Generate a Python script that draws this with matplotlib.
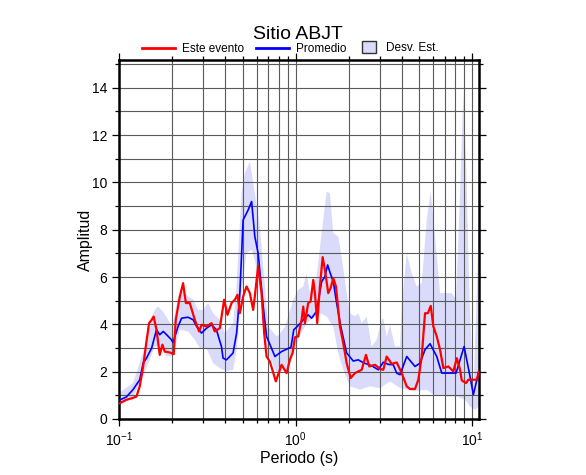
import matplotlib
matplotlib.use("Agg")
import matplotlib.pyplot as plt
from matplotlib.lines import Line2D
from matplotlib.patches import Patch
from matplotlib.ticker import LogLocator, MultipleLocator
import numpy as np

plt.rcParams['font.family'] = ['Liberation Sans', 'DejaVu Sans']
plt.rcParams['mathtext.fontset'] = 'custom'
plt.rcParams['mathtext.rm'] = 'Liberation Sans'
plt.rcParams['mathtext.it'] = 'Liberation Sans:italic'

# Este evento (rojo)
per_evento = [0.1, 0.110, 0.120, 0.1255, 0.131, 0.137, 0.143, 0.148, 0.153, 0.157,
              0.163, 0.170, 0.176, 0.1815, 0.194, 0.204, 0.2095, 0.221, 0.2305, 0.239,
              0.2515, 0.2685, 0.284, 0.293, 0.313, 0.334, 0.348, 0.372, 0.3935, 0.411,
              0.4335, 0.4524, 0.4686, 0.483, 0.504, 0.527, 0.550, 0.5745, 0.587, 0.613,
              0.641, 0.663, 0.684, 0.714, 0.772, 0.832, 0.888, 0.927, 0.960, 0.990,
              1.033, 1.08, 1.103, 1.128, 1.177, 1.214, 1.257, 1.285, 1.324, 1.371,
              1.421, 1.464, 1.528, 1.576, 1.632, 1.69, 1.78, 1.858, 1.943, 2.047,
              2.165, 2.363, 2.499, 2.609, 2.811, 3.0, 3.131, 3.273, 3.494, 3.729,
              3.981, 4.249, 4.436, 4.735, 4.944, 5.168, 5.395, 5.6, 5.812, 6.012,
              6.285, 6.561, 6.851, 7.311, 7.806, 8.159, 8.517, 8.708, 9.211, 9.491,
              10.13, 10.59, 10.87]
amp_evento = [0.65, 0.81, 0.89, 0.95, 1.38, 2.22, 3.28, 4.05, 4.19, 4.33,
              3.77, 2.71, 3.14, 2.85, 2.81, 2.74, 4.19, 5.18, 5.74, 4.90,
              4.90, 4.19, 3.70, 3.98, 3.91, 4.05, 3.70, 3.84, 5.04, 4.40,
              4.90, 5.04, 5.25, 4.47, 5.18, 5.60, 5.32, 4.61, 5.18, 6.47,
              5.32, 3.63, 2.64, 2.43, 1.59, 2.29, 1.94, 2.50, 2.79, 3.45,
              3.49, 4.19, 4.75, 4.05, 4.90, 4.96, 5.88, 5.32, 4.05, 5.60,
              6.84, 6.30, 5.32, 5.53, 5.95, 5.60, 3.91, 3.21, 2.36, 1.73,
              1.94, 2.08, 2.71, 2.22, 2.29, 2.12, 2.08, 2.64, 2.33, 2.39,
              1.94, 1.38, 1.27, 1.27, 1.66, 2.64, 4.47, 4.47, 4.78, 3.91,
              3.49, 2.93, 2.15, 2.22, 2.01, 2.57, 2.08, 1.63, 1.52, 1.66,
              1.66, 1.66, 2.0]

# Promedio (azul)
per_prom = [0.1, 0.110, 0.120, 0.131, 0.137, 0.143, 0.153, 0.163, 0.170, 0.178,
            0.186, 0.198, 0.202, 0.216, 0.226, 0.246, 0.263, 0.275, 0.293, 0.313,
            0.334, 0.356, 0.380, 0.388, 0.406, 0.442, 0.463, 0.483, 0.504, 0.538,
            0.563, 0.587, 0.613, 0.655, 0.684, 0.763, 0.832, 0.888, 0.940, 0.975,
            1.033, 1.103, 1.177, 1.230, 1.313, 1.402, 1.464, 1.516, 1.562, 1.632,
            1.705, 1.80, 1.943, 2.117, 2.260, 2.413, 2.692, 2.934, 3.131, 3.342,
            3.567, 3.729, 3.893, 4.249, 4.735, 5.055, 5.395, 5.759, 6.285, 6.709,
            8.084, 8.974, 9.617, 10.13, 10.87]
amp_prom = [0.79, 0.93, 1.24, 1.66, 2.36, 2.57, 3.00, 3.77, 3.56, 3.70,
            3.56, 3.35, 3.23, 3.91, 4.26, 4.30, 4.19, 3.91, 3.63, 3.84,
            3.98, 3.77, 3.06, 2.57, 2.50, 2.79, 3.63, 5.32, 8.41, 8.83,
            9.19, 7.71, 7.00, 4.75, 3.49, 2.64, 2.85, 2.95, 3.03, 3.77,
            3.95, 4.19, 4.40, 4.26, 4.55, 5.80, 6.02, 6.51, 6.20, 5.80,
            4.90, 3.90, 2.79, 2.45, 2.50, 2.38, 2.25, 2.08, 2.40, 2.31,
            2.29, 1.94, 1.87, 2.64, 2.22, 2.36, 2.93, 3.18, 2.64, 1.94,
            1.94, 3.06, 1.94, 1.03, 2.0]

# Desv. Est. (banda)
per_sup = [0.1, 0.120, 0.1368, 0.149, 0.1594, 0.1663, 0.1775, 0.1895, 0.2007, 0.2159,
           0.2287, 0.246, 0.2626, 0.2803, 0.2992, 0.3192, 0.3407, 0.372, 0.397, 0.4424,
           0.4626, 0.4938, 0.5155, 0.5503, 0.5873, 0.6271, 0.6693, 0.6988, 0.78, 0.814,
           0.87, 0.93, 0.968, 1.033, 1.103, 1.153, 1.204, 1.313, 1.402, 1.497,
           1.562, 1.632, 1.741, 1.82, 1.943, 2.028, 2.165, 2.26, 2.363, 2.522,
           2.692, 2.874, 3.067, 3.131, 3.273, 3.417, 3.647, 3.893, 3.981, 4.249,
           4.536, 4.842, 5.168, 5.516, 5.812, 6.147, 6.561, 7.161, 7.644, 8.084,
           8.517, 8.892, 9.211, 9.617, 10.13, 10.59, 10.87]
amp_sup = [1.10, 1.52, 2.79, 3.91, 4.61, 4.75, 4.54, 4.19, 3.91, 5.18,
           5.39, 5.18, 5.04, 4.61, 4.61, 4.90, 4.47, 4.19, 3.63, 4.05,
           5.60, 9.54, 10.38, 10.87, 9.54, 8.13, 5.60, 3.91, 3.49, 3.60,
           3.90, 4.60, 5.04, 5.46, 5.60, 6.16, 5.32, 6.02, 7.85, 9.61,
           9.54, 7.85, 7.71, 6.86, 5.32, 4.47, 4.33, 4.47, 4.05, 4.33,
           3.06, 3.35, 4.19, 4.26, 3.49, 3.98, 3.06, 3.06, 4.75, 7.00,
           6.16, 5.60, 5.74, 8.41, 9.61, 7.71, 5.32, 5.32, 5.32, 5.04,
           9.54, 13.83, 10.95, 5.32, 1.10, 5.32, 8.55]
per_inf = [0.1, 0.120, 0.1368, 0.149, 0.1594, 0.170, 0.1856, 0.1981, 0.2068, 0.2208,
           0.246, 0.2685, 0.2866, 0.3126, 0.3407, 0.372, 0.4059, 0.4424, 0.4662, 0.4938,
           0.5271, 0.5626, 0.5873, 0.6271, 0.6693, 0.7144, 0.78, 0.87, 0.93, 0.99,
           1.056, 1.153, 1.257, 1.371, 1.497, 1.632, 1.741, 1.858, 2.028, 2.311,
           2.633, 3.0, 3.417, 3.893, 4.631, 5.516, 6.012, 7.161, 8.159, 9.093,
           9.705, 10.36, 10.87]
amp_inf = [0.68, 0.89, 1.80, 2.50, 3.06, 3.06, 2.64, 2.64, 3.00, 3.77,
           3.70, 3.35, 3.00, 3.00, 2.36, 2.15, 2.01, 2.08, 3.06, 5.32,
           7.00, 7.15, 6.72, 5.46, 3.35, 2.64, 1.94, 2.10, 2.40, 2.90,
           3.50, 4.05, 4.26, 4.47, 4.33, 3.91, 2.79, 2.08, 1.38, 1.24,
           1.38, 1.30, 1.59, 1.31, 1.17, 1.24, 1.03, 0.95, 0.95, 0.81,
           0.53, 0.39, 0.53]

etiquetas = ['Este evento', 'Promedio', 'Desv. Est.']

fig = plt.figure(figsize=(5.86, 4.75), dpi=100)
ax = fig.add_axes([0.2031, 0.1179, 0.6143, 0.7558])

banda_x = np.concatenate([per_sup, per_inf[::-1]])
banda_y = np.concatenate([amp_sup, amp_inf[::-1]])
ax.fill(banda_x, banda_y, color='#dadafa', lw=0, zorder=1)
ax.plot(per_prom, amp_prom, color='#0000ff', lw=1.2, zorder=3)
ax.plot(per_evento, amp_evento, color='#ff0000', lw=1.6, zorder=4)

ax.set_xscale('log')
ax.set_xlim(0.1, 10.9)
ax.set_ylim(0, 15.17)
ax.yaxis.set_major_locator(MultipleLocator(2))
ax.yaxis.set_minor_locator(MultipleLocator(1))
ax.xaxis.set_minor_locator(LogLocator(base=10, subs=np.arange(2, 10)))
ax.set_axisbelow('line')
ax.grid(True, which='both', color='#5a5a5a', lw=0.8)

for s in ax.spines.values():
    s.set_linewidth(1.8)
ax.tick_params(which='both', direction='out', top=True, right=True, labelsize=10, width=0.9)
ax.tick_params(which='major', length=5)
ax.tick_params(which='minor', length=3)

ax.set_xlabel('Periodo (s)', fontsize=11.5, labelpad=1)
ax.set_ylabel('Amplitud', fontsize=11.5, labelpad=-1)
fig.text(0.508, 0.918, 'Sitio ABJT', ha='center', va='baseline', fontsize=14)

# leyenda: tres entradas sueltas sobre el marco
handles = [Line2D([], [], color='#ff0000', lw=2),
           Line2D([], [], color='#0000ff', lw=2),
           Patch(facecolor='#dadafa', edgecolor='#333333', lw=1)]
x_ley = [142, 256, 362]
y_ley = [49, 49, 47.5]
for h, lab, x0, y0 in zip(handles, etiquetas, x_ley, y_ley):
    es_cuadro = isinstance(h, Patch)
    fig.legend([h], [lab], loc='center left', bbox_to_anchor=(x0 / 586, 1 - y0 / 475),
               frameon=False, fontsize=8.5, borderpad=0, borderaxespad=0,
               handlelength=1.2 if es_cuadro else 2.8,
               handleheight=1.2 if es_cuadro else 0.7,
               handletextpad=0.85 if es_cuadro else 0.6)

fig.savefig('out.png', dpi=100)
